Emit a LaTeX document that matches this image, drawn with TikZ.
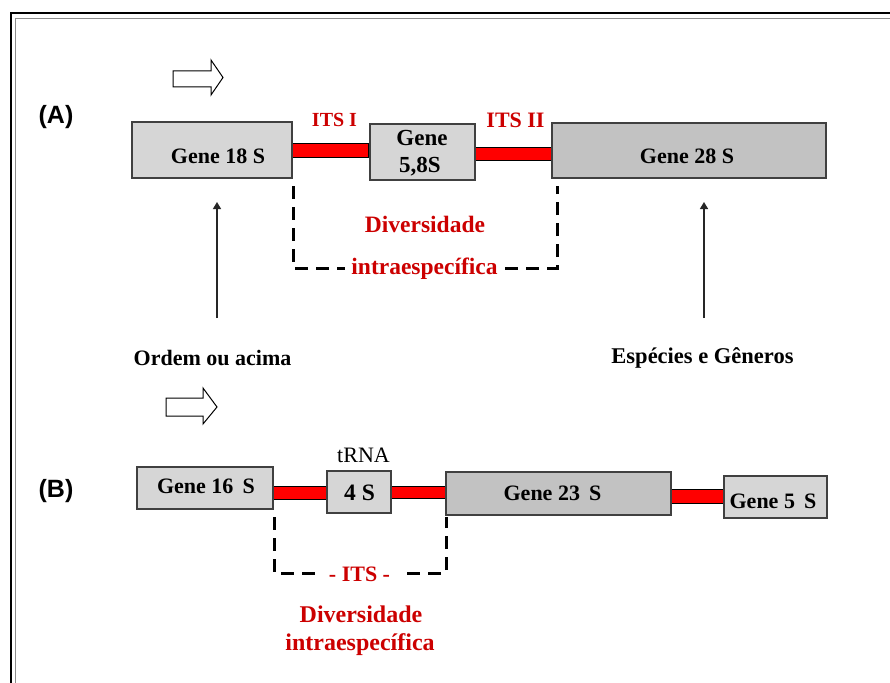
\documentclass[tikz,border=0pt]{standalone}
\usepackage{fontspec}
\setmainfont{Liberation Serif}
\newfontfamily\labelsans{Liberation Sans}
\usetikzlibrary{arrows.meta}
\definecolor{boxlight}{HTML}{D6D6D6}
\definecolor{boxdark}{HTML}{C2C2C2}
\definecolor{itsred}{HTML}{FF0000}
\definecolor{txtred}{HTML}{CC0000}
\begin{document}
\begin{tikzpicture}[x=1pt,y=-1pt,
  genebox/.style={draw=black!75, line width=1.1pt, fill=boxlight, inner sep=0pt, outer sep=0pt, anchor=north west},
  darkbox/.style={genebox, fill=boxdark},
  spacer/.style={draw=black, line width=1pt, fill=itsred, inner sep=0pt, outer sep=0pt, anchor=north west},
  genetxt/.style={font=\bfseries\fontsize{22}{24}\selectfont, inner sep=0pt, anchor=base},
  redtxt/.style={genetxt, text=txtred},
  bracket/.style={line width=3pt, dash pattern=on 13pt off 8pt},
  uparrow/.style={line width=1.4pt, draw=black!85, -{Triangle[length=7pt,width=8pt]}},
  hollow/.style={draw=black, line width=1pt, fill=white},
  partlbl/.style={font=\labelsans\bfseries\fontsize{25}{27}\selectfont, inner sep=0pt, anchor=base}]
\clip (0,0) rectangle (890,682);
\fill[white] (0,0) rectangle (890,682);

% double frame
\draw[line width=2pt, black] (10.5,13) rectangle (910,700);
\draw[line width=1.5pt, black!45] (15.5,18.5) rectangle (905,695);

% ---------- (A) eukaryotic rDNA unit ----------
\node[partlbl] (lblA) at (56,124) {(A)};
\draw[hollow] (173,71) -- (211,71) -- (211,60) -- (223,77.5) -- (211,95) -- (211,87) -- (173,87) -- cycle;

\node[spacer, minimum width=76pt, minimum height=14pt] (its1) at (292,143) {};
\node[spacer, minimum width=77pt, minimum height=13pt] (its2) at (475,147) {};
\node[genebox, minimum width=160pt, minimum height=56pt] (g18) at (132,122) {};
\node[genebox, minimum width=105pt, minimum height=56pt] (g58) at (370,124) {};
\node[darkbox, minimum width=274pt, minimum height=55pt] (g28) at (552,123) {};

\node[genetxt] (t18) at (218,163) {Gene 18 S};
\node[genetxt, font=\bfseries\fontsize{23}{25}\selectfont] (t58a) at (422,145) {Gene};
\node[genetxt, font=\bfseries\fontsize{23}{25}\selectfont] (t58b) at (420,172) {5,8S};
\node[genetxt] (t28) at (687,163) {Gene 28 S};
\node[redtxt, font=\bfseries\fontsize{20}{22}\selectfont] (lits1) at (334.5,126) {ITS I};
\node[redtxt] (lits2) at (515.5,128) {ITS II};

% dashed bracket under the spacer region
\coordinate (bA1) at (293,186);
\coordinate (bA2) at (557,268);
\coordinate (bA3) at (557,186);
\draw[bracket] (bA1) |- (bA2) -- (bA3);
\node[redtxt, font=\bfseries\fontsize{23.5}{25}\selectfont] (divA) at (425,232) {Diversidade};
\node[redtxt, font=\bfseries\fontsize{23.5}{25}\selectfont, fill=white, inner xsep=6pt, inner ysep=2pt] (intA) at (424.5,274) {intraespecífica};

% resolution arrows
\coordinate (upL0) at (217,318);
\coordinate (upL1) at (217,202);
\coordinate (upR0) at (704,318);
\coordinate (upR1) at (704,202);
\draw[uparrow] (upL0) -- (upL1);
\draw[uparrow] (upR0) -- (upR1);
\node[genetxt] (ordem) at (212.5,365) {Ordem ou acima};
\node[genetxt, font=\bfseries\fontsize{22.5}{24}\selectfont] (especies) at (702.5,363) {Espécies e Gêneros};

% ---------- (B) prokaryotic rrn operon ----------
\node[partlbl] (lblB) at (56,497) {(B)};
\draw[hollow] (166,398) -- (203,398) -- (203,388) -- (217,407) -- (203,424) -- (203,416) -- (166,416) -- cycle;

\node[spacer, minimum width=54pt, minimum height=13pt] (sp1) at (273,486) {};
\node[spacer, minimum width=55pt, minimum height=12pt] (sp2) at (391,486) {};
\node[spacer, minimum width=53pt, minimum height=14pt] (sp3) at (671,489) {};
\node[genebox, minimum width=136pt, minimum height=42pt] (g16) at (137,467) {};
\node[genebox, minimum width=64pt, minimum height=42pt] (g4) at (327,471) {};
\node[darkbox, minimum width=225pt, minimum height=43pt] (g23) at (446,472) {};
\node[genebox, minimum width=103pt, minimum height=42pt] (g5) at (724,476) {};

\node[genetxt] (t16) at (206,493) {Gene 16\,\ S};
\node[genetxt, font=\bfseries\fontsize{23.5}{25}\selectfont] (t4) at (359.5,500) {4 S};
\node[genetxt, font=\fontsize{22}{24}\selectfont] (trna) at (363.5,462) {tRNA};
\node[genetxt] (t23) at (552.5,500) {Gene 23\,\ S};
\node[genetxt] (t5) at (773,508) {Gene 5\,\ S};

\coordinate (bB1) at (274,517);
\coordinate (bB2) at (446,573);
\coordinate (bB3) at (446,517);
\draw[bracket] (bB1) |- (bB2) -- (bB3);
\node[redtxt, fill=white, inner xsep=12pt, inner ysep=2pt] (itsB) at (359.5,581) {- ITS -};
\node[redtxt, font=\bfseries\fontsize{24}{26}\selectfont] (divB) at (361,622) {Diversidade};
\node[redtxt, font=\bfseries\fontsize{24}{26}\selectfont] (intB) at (360,650) {intraespecífica};
\end{tikzpicture}
\end{document}
